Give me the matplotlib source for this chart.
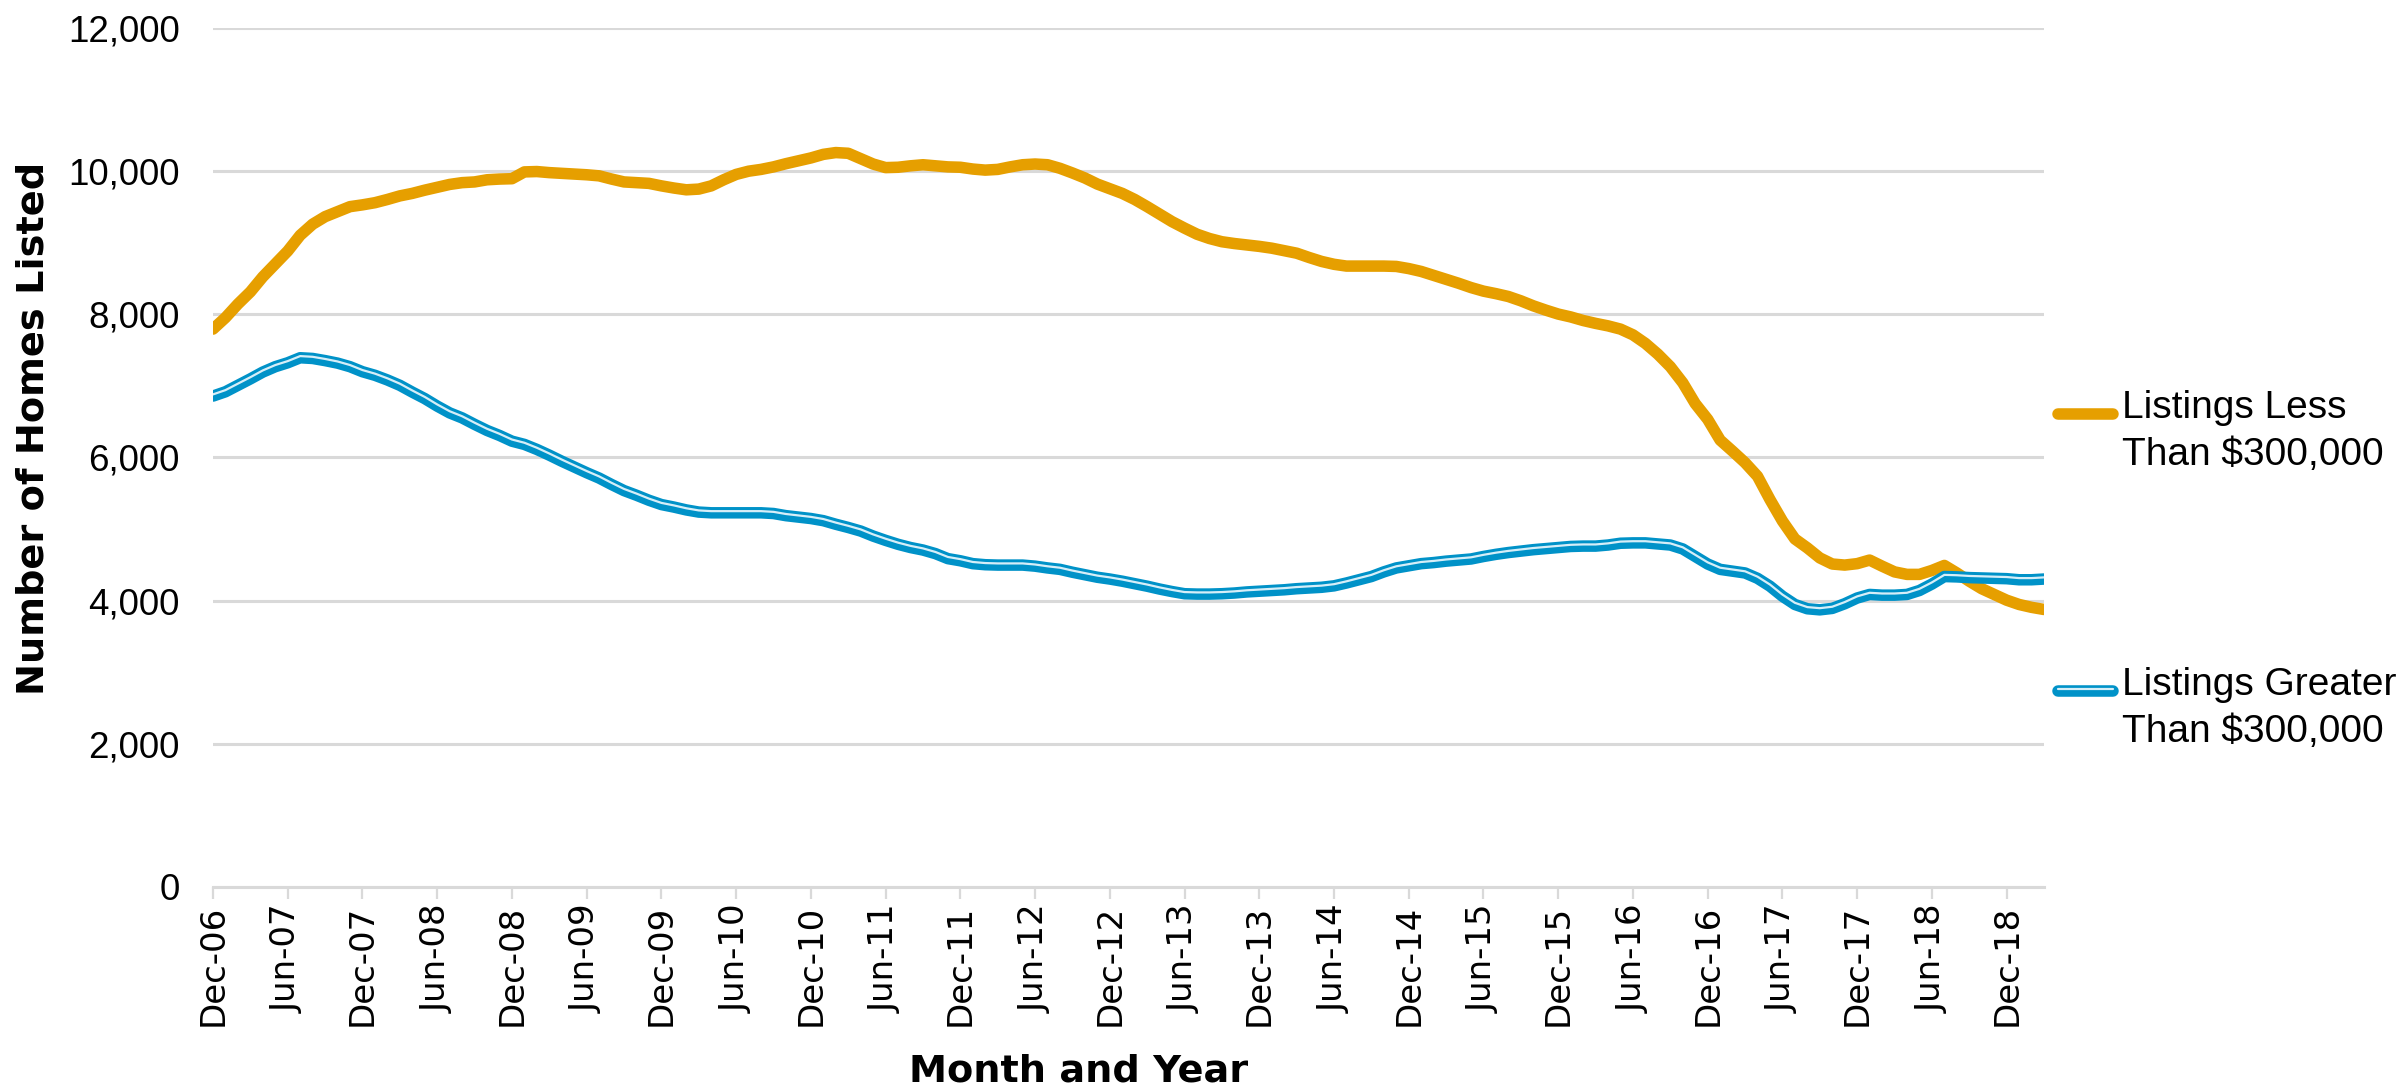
import numpy as np
import pandas as pd
import matplotlib
matplotlib.use("Agg")
import matplotlib.pyplot as plt
from matplotlib.lines import Line2D
from matplotlib.ticker import FuncFormatter
import matplotlib.transforms as mtransforms

# ---------------- data ----------------
months = pd.date_range("2006-12-01", periods=148, freq="MS")
month_labels = list(months.strftime("%b-%y"))

listings_less_300k = [
    7790, 7950, 8140, 8310, 8520, 8700, 8880, 9100, 9255, 9360, 9430, 9500,
    9525, 9555, 9600, 9650, 9685, 9730, 9770, 9810, 9835, 9845, 9875, 9885,
    9890, 9985, 9990, 9975, 9965, 9955, 9945, 9930, 9885, 9845, 9835, 9825,
    9790, 9760, 9735, 9745, 9790, 9875, 9950, 9995, 10020, 10055, 10100, 10140,
    10180, 10230, 10255, 10245, 10170, 10095, 10045, 10050, 10070, 10085, 10070, 10055,
    10050, 10025, 10010, 10020, 10055, 10085, 10095, 10085, 10035, 9970, 9900, 9815,
    9750, 9685, 9600, 9500, 9395, 9290, 9200, 9115, 9055, 9010, 8985, 8965,
    8945, 8920, 8885, 8850, 8790, 8735, 8695, 8670, 8670, 8670, 8670, 8665,
    8635, 8595, 8540, 8485, 8430, 8370, 8320, 8285, 8245, 8185, 8115, 8055,
    8000, 7960, 7910, 7870, 7835, 7790, 7710, 7590, 7440, 7265, 7040, 6750,
    6530, 6240, 6085, 5925, 5735, 5410, 5110, 4860, 4735, 4595, 4510, 4495,
    4515, 4565, 4480, 4400, 4365, 4365, 4420, 4490, 4385, 4270, 4165, 4085,
    4005, 3945, 3905, 3875,
]

listings_greater_300k = [
    6855, 6915, 7005, 7095, 7190, 7265, 7320, 7390, 7380, 7350, 7315, 7265,
    7195, 7145, 7080, 7005, 6910, 6820, 6715, 6620, 6550, 6460, 6375, 6305,
    6225, 6180, 6110, 6030, 5945, 5865, 5785, 5710, 5620, 5535, 5470, 5400,
    5340, 5305, 5265, 5235, 5225, 5225, 5225, 5225, 5225, 5215, 5185, 5165,
    5145, 5115, 5065, 5020, 4970, 4900, 4840, 4785, 4740, 4705, 4655, 4585,
    4555, 4515, 4500, 4495, 4495, 4495, 4480, 4455, 4435, 4395, 4360, 4325,
    4300, 4270, 4235, 4200, 4160, 4125, 4095, 4090, 4090, 4095, 4105, 4120,
    4130, 4140, 4150, 4165, 4175, 4185, 4205, 4245, 4290, 4335, 4400, 4455,
    4485, 4515, 4530, 4550, 4565, 4580, 4615, 4645, 4670, 4690, 4710, 4725,
    4740, 4755, 4760, 4760, 4775, 4800, 4805, 4805, 4790, 4775, 4720, 4615,
    4510, 4435, 4410, 4385, 4310, 4200, 4060, 3945, 3885, 3870, 3890, 3955,
    4035, 4085, 4075, 4075, 4085, 4140, 4230, 4335, 4330, 4320, 4315, 4310,
    4305, 4290, 4290, 4300,
]

series_names = ["Listings Less\nThan $300,000", "Listings Greater\nThan $300,000"]
y_ticks = [0, 2000, 4000, 6000, 8000, 10000, 12000]
tick_step = 6  # label every six months

# ---------------- style ----------------
ORANGE = "#E69F00"
BLUE = "#0092C8"
INNER = "#D6EEF8"
GRID = "#D9D9D9"
LW = 8.3

W, H = 2402, 1091
fig = plt.figure(figsize=(W / 100, H / 100), dpi=100)
fig.patch.set_facecolor("white")

ax_left, ax_right = 213 / W, 2044 / W
ax_bottom, ax_top = 1 - 887 / H, 1 - 27.6 / H
ax = fig.add_axes([ax_left, ax_bottom, ax_right - ax_left, ax_top - ax_bottom])

x = np.arange(len(months))

ax.plot(x, listings_less_300k, color=ORANGE, lw=LW, solid_capstyle="round",
        solid_joinstyle="round", zorder=3)
ax.plot(x, listings_greater_300k, color=BLUE, lw=LW, solid_capstyle="round",
        solid_joinstyle="round", zorder=4)
inner_tr = mtransforms.offset_copy(ax.transData, fig=fig, x=0, y=1.2, units="points")
ax.plot(x, listings_greater_300k, color=INNER, lw=1.6, solid_capstyle="round",
        solid_joinstyle="round", transform=inner_tr, zorder=5)

ax.set_xlim(0, len(months) - 1)
ax.set_ylim(0, 12000)

ax.set_yticks(y_ticks)
ax.yaxis.set_major_formatter(FuncFormatter(lambda v, p: f"{int(v):,}"))
ax.grid(axis="y", color=GRID, lw=2.2, zorder=0)
ax.set_axisbelow(True)

tick_pos = x[::tick_step]
ax.set_xticks(tick_pos)
ax.set_xticklabels([month_labels[i] for i in tick_pos], rotation=90,
                   fontsize=24.5, family="DejaVu Sans", color="#000000")
for lab in ax.get_yticklabels():
    lab.set_fontfamily("Liberation Sans")
    lab.set_fontsize(26.5)

ax.tick_params(axis="y", length=0, pad=24)
ax.tick_params(axis="x", length=8.5, width=1.6, color=GRID, pad=4)

for s in ["top", "right", "left"]:
    ax.spines[s].set_visible(False)
ax.spines["bottom"].set_color(GRID)
ax.spines["bottom"].set_linewidth(2.2)

# axis titles
fig.text(34 / W, 1 - 428 / H, "Number of Homes Listed", rotation=90,
         ha="center", va="center", fontsize=27.5, fontweight="bold",
         family="DejaVu Sans")
fig.text(1079 / W, 1 - 1071 / H, "Month and Year", ha="center", va="center",
         fontsize=27.5, fontweight="bold", family="DejaVu Sans")

# legend (entries placed as in the original)
def legend_entry(y_px, color, label, double=False):
    yf = 1 - y_px / H
    fig.add_artist(Line2D([2058 / W, 2113 / W], [yf, yf], color=color, lw=LW,
                          solid_capstyle="round", transform=fig.transFigure))
    if double:
        yi = 1 - (y_px - 1.8) / H
        fig.add_artist(Line2D([2058 / W, 2113 / W], [yi, yi], color=INNER, lw=1.6,
                              solid_capstyle="round", transform=fig.transFigure))
    fig.text(2122 / W, 1 - (y_px - 24) / H, label, ha="left", va="top",
             fontsize=28, family="Liberation Sans", linespacing=1.4)

legend_entry(414, ORANGE, series_names[0])
legend_entry(691, BLUE, series_names[1], double=True)

fig.savefig("out.png", dpi=100)
